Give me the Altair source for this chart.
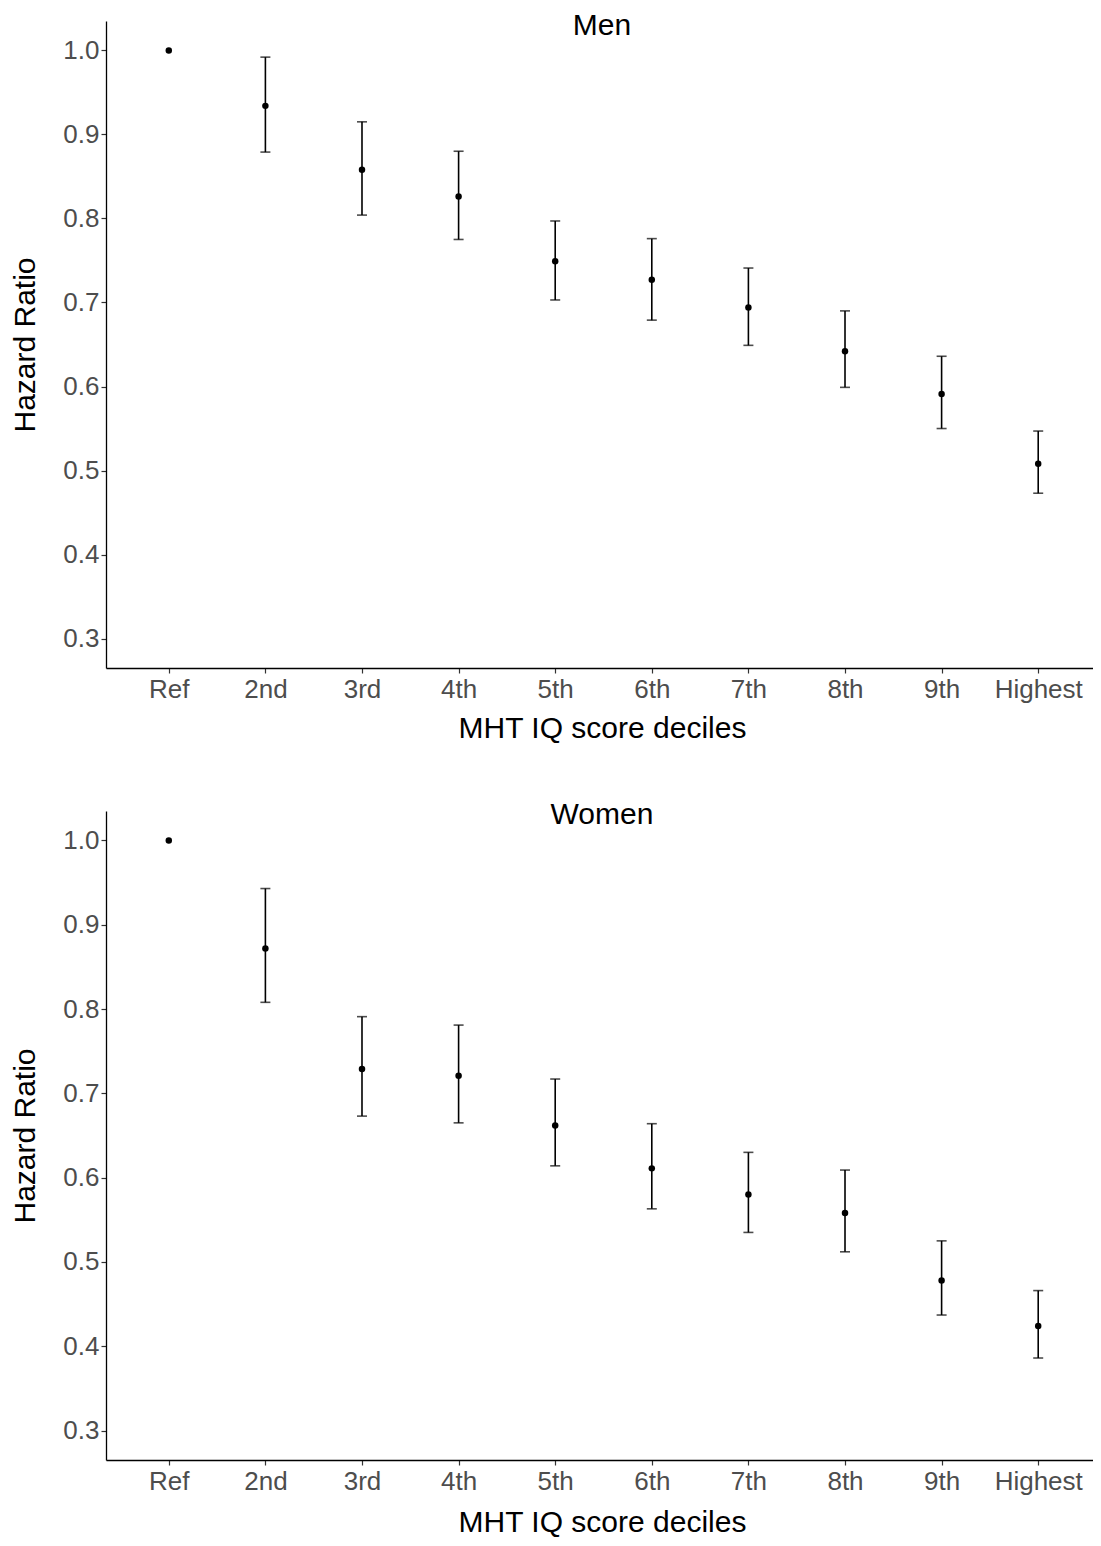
import altair as alt
import pandas as pd

cats = ["Ref", "2nd", "3rd", "4th", "5th", "6th", "7th", "8th", "9th", "Highest"]

men_hr = [1.0, 0.934, 0.858, 0.826, 0.749, 0.727, 0.694, 0.642, 0.591, 0.508]
men_lo = [None, 0.879, 0.804, 0.775, 0.703, 0.679, 0.649, 0.599, 0.550, 0.473]
men_hi = [None, 0.992, 0.915, 0.880, 0.797, 0.776, 0.741, 0.690, 0.636, 0.547]

women_hr = [1.0, 0.872, 0.729, 0.721, 0.662, 0.611, 0.580, 0.558, 0.478, 0.424]
women_lo = [None, 0.808, 0.673, 0.665, 0.614, 0.563, 0.535, 0.512, 0.437, 0.386]
women_hi = [None, 0.943, 0.791, 0.781, 0.717, 0.664, 0.630, 0.609, 0.525, 0.466]

y_ticks = [0.3, 0.4, 0.5, 0.6, 0.7, 0.8, 0.9, 1.0]

FONT = "Liberation Sans"
W = 995
CX = 496  # horizontal centre used for the panel titles


def panel(title, hr, lo, hi, h, lab_pad, tit_pad, title_dy):
    df = pd.DataFrame({"decile": cats, "hr": hr, "lo": lo, "hi": hi})
    xenc = alt.X(
        "decile:N",
        sort=cats,
        scale=alt.Scale(type="point", padding=0.65),
        axis=alt.Axis(
            title="MHT IQ score deciles",
            labelAngle=0,
            labelPadding=lab_pad,
            titlePadding=tit_pad,
            titleX=CX,
        ),
    )
    yscale = alt.Scale(domain=[0.265, 1.035], nice=False, zero=False)
    yaxis = alt.Axis(
        title="Hazard Ratio",
        values=y_ticks,
        format=".1f",
        labelPadding=2,
        titlePadding=22,
    )
    base = alt.Chart(df)
    ci = base.transform_filter("datum.lo != null")
    rule = ci.mark_rule(color="black", strokeWidth=1.6).encode(
        x=xenc,
        y=alt.Y("lo:Q", scale=yscale, axis=yaxis),
        y2="hi:Q",
    )
    cap_lo = ci.mark_tick(color="black", thickness=1.6, size=10, orient="horizontal").encode(
        x=xenc, y=alt.Y("lo:Q", scale=yscale)
    )
    cap_hi = ci.mark_tick(color="black", thickness=1.6, size=10, orient="horizontal").encode(
        x=xenc, y=alt.Y("hi:Q", scale=yscale)
    )
    pts = base.mark_point(filled=True, color="black", size=42, opacity=1).encode(
        x=xenc, y=alt.Y("hr:Q", scale=yscale)
    )
    ttl = alt.Chart(pd.DataFrame({"t": [title]})).mark_text(
        font=FONT, fontSize=30, color="black", baseline="middle", align="center", dy=title_dy
    ).encode(text="t:N", x=alt.value(CX), y=alt.value(0))
    return alt.layer(rule, cap_lo, cap_hi, pts, ttl).properties(width=W, height=h)


top = panel("Men", men_hr, men_lo, men_hi, 647, 3, 11, 5)
bottom = panel("Women", women_hr, women_lo, women_hi, 649, 3, 13, 4)

chart = (
    alt.vconcat(top, bottom, spacing=57)
    .properties(padding={"left": 2, "top": 3, "right": -8, "bottom": 0})
    .configure(font=FONT)
    .configure_view(stroke=None)
    .configure_axis(
        grid=False,
        domainColor="black",
        domainWidth=1.3,
        tickColor="#333333",
        tickWidth=1.2,
        tickSize=5,
        labelFont=FONT,
        labelFontSize=26,
        labelColor="#4d4d4d",
        titleFont=FONT,
        titleFontSize=30,
        titleFontWeight="normal",
        titleColor="black",
    )
)

chart.save("out.html", embed_options={"renderer": "svg", "actions": False})
